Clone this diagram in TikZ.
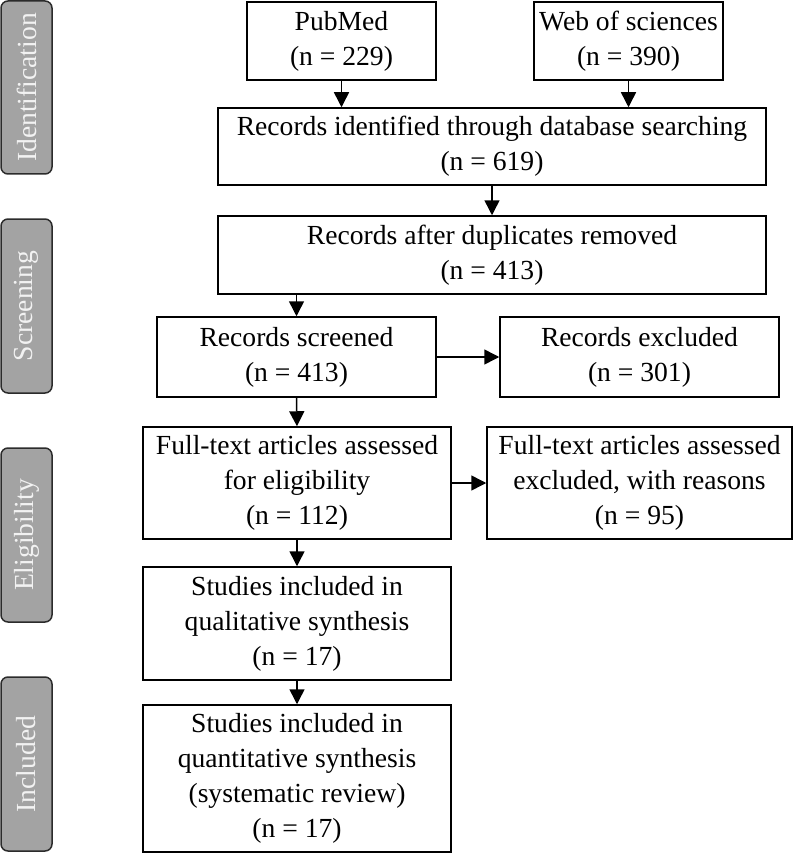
\documentclass[tikz,border=0pt]{standalone}
\usepackage{fontspec}
\setmainfont{Liberation Serif}
\usetikzlibrary{arrows.meta}
\definecolor{phasegray}{HTML}{A3A3A3}
\definecolor{phaseline}{HTML}{2B2B2B}
\definecolor{phasetext}{HTML}{F2F2F2}
\begin{document}
\begin{tikzpicture}[x=1pt,y=-1pt,
    flowbox/.style={draw, line width=1.5pt, inner sep=0pt, align=center,
        font=\fontsize{27.6}{35}\selectfont},
    phasebox/.style={draw=phaseline, fill=phasegray, line width=1.5pt,
        rounded corners=7pt, inner sep=0pt, rotate=90, text=phasetext,
        minimum height=51pt, font=\fontsize{27.6}{34}\selectfont},
    flowarrow/.style={line width=1.5pt, -{Triangle[length=15pt,width=15pt]}}]
    \useasboundingbox (0,0) rectangle (793,853);
    {
    % Phase labels on the left
    \node [phasebox, minimum width=173pt] (phaseid) at (26.5,87.5) {Identification};%
    \node [phasebox, minimum width=174pt] (phasescr) at (26.5,306) {Screening};%
    \node [phasebox, minimum width=174pt] (phaseelig) at (26.5,535) {Eligibility};%
    \node [phasebox, minimum width=174pt] (phaseinc) at (26.5,764) {Included};%

    % Source databases
    \node [flowbox, minimum width=189pt, minimum height=78pt] (pubmed) at (341.5,41) {PubMed\\(n = 229)};%
    \node [flowbox, minimum width=189pt, minimum height=78pt] (wos) at (628.5,41) {Web of sciences\\(n = 390)};%

    % Identification and screening
    \node [flowbox, minimum width=548pt, minimum height=77pt] (ident) at (492,146.5) {Records identified through database searching\\(n = 619)};%
    \node [flowbox, minimum width=548pt, minimum height=78pt] (dedup) at (492,255) {Records after duplicates removed\\(n = 413)};%
    \node [flowbox, minimum width=279pt, minimum height=80pt] (screened) at (296.5,357) {Records screened\\(n = 413)};%
    \node [flowbox, minimum width=279pt, minimum height=80pt] (excluded) at (639.5,357) {Records excluded\\(n = 301)};%

    % Eligibility
    \node [flowbox, minimum width=308pt, minimum height=112pt] (fulltext) at (297,483) {Full-text articles assessed\\for eligibility\\(n = 112)};%
    \node [flowbox, minimum width=305pt, minimum height=112pt] (ftexcl) at (639.5,483) {Full-text articles assessed\\excluded, with reasons\\(n = 95)};%

    % Included
    \node [flowbox, minimum width=308pt, minimum height=113pt] (qual) at (297,623.5) {Studies included in\\qualitative synthesis\\(n = 17)};%
    \node [flowbox, minimum width=308pt, minimum height=147pt] (quant) at (297,778.5) {Studies included in\\quantitative synthesis\\(systematic review)\\(n = 17)};%

    % Connectors
    \draw [flowarrow] (pubmed.south) -- (pubmed.south |- ident.north);%
    \draw [flowarrow] (wos.south) -- (wos.south |- ident.north);%
    \draw [flowarrow] (ident.south) -- (dedup.north);%
    \draw [flowarrow] (dedup.south -| screened.north) -- (screened.north);%
    \draw [flowarrow] (screened.east) -- (excluded.west);%
    \draw [flowarrow] (screened.south) -- (fulltext.north);%
    \draw [flowarrow] (fulltext.east) -- (ftexcl.west);%
    \draw [flowarrow] (fulltext.south) -- (qual.north);%
    \draw [flowarrow] (qual.south) -- (quant.north);%
    }
\end{tikzpicture}
\end{document}
